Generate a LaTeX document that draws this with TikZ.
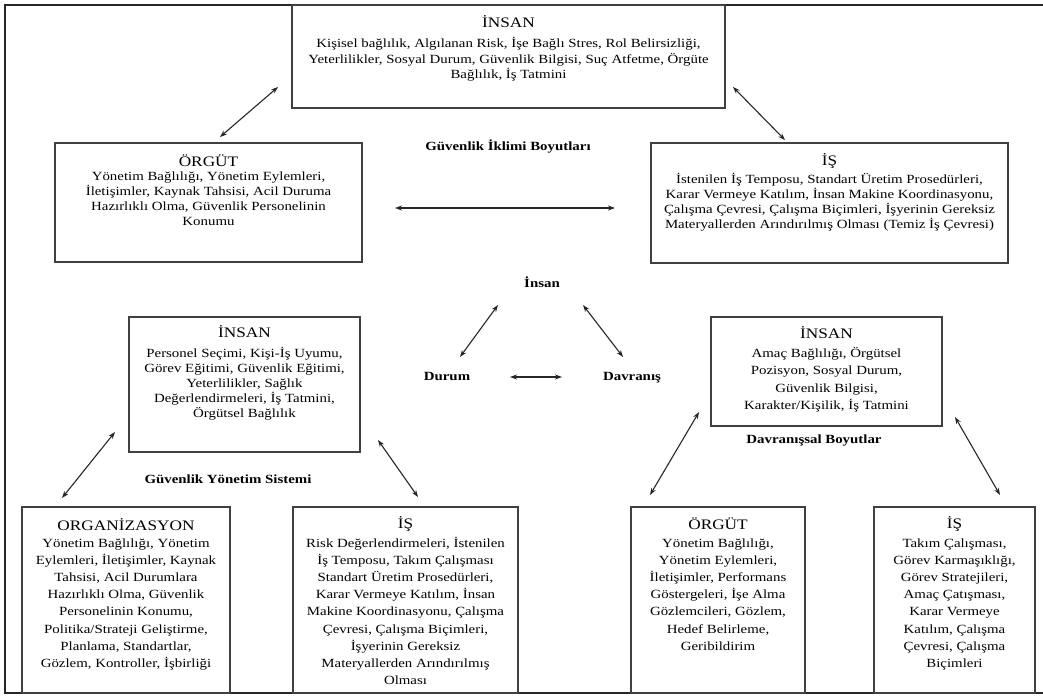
\documentclass[tikz,border=0pt]{standalone}
\usepackage{fontspec}
\setmainfont[FakeStretch=1.19]{Liberation Serif}
\usetikzlibrary{arrows.meta,calc}
\begin{document}
\begin{tikzpicture}[x=1pt,y=-1pt,
  box/.style={draw=black!75,line width=1.3pt,inner sep=0pt,outer sep=0pt,anchor=north west},
  ttl/.style={anchor=base,inner sep=0pt,font=\fontsize{14.5}{16}\selectfont},
  bodytop/.style={anchor=base,inner sep=0pt,align=center,font=\fontsize{12.5}{15.3}\selectfont},
  bodymidl/.style={anchor=base,inner sep=0pt,align=center,font=\fontsize{12.5}{15.2}\selectfont},
  bodymidr/.style={anchor=base,inner sep=0pt,align=center,font=\fontsize{12.5}{17.5}\selectfont},
  bodybot/.style={anchor=base,inner sep=0pt,align=center,font=\fontsize{12.5}{17.2}\selectfont},
  lbl/.style={anchor=base,inner sep=0pt,font=\fontsize{12.5}{14}\selectfont\bfseries},
  biarrow/.style={{Stealth[length=7pt,width=5pt]}-{Stealth[length=7pt,width=5pt]},line width=1.1pt,draw=black!85},
  frame/.style={line width=2.6pt,draw=black!85}
]
\useasboundingbox (0,0) rectangle (1043,698);
% outer frame
\coordinate (ftl) at (5,5);
\coordinate (ftr) at (1043,5);
\coordinate (fbl) at (5,693);
\coordinate (fbr) at (1043,693);
\draw[frame] (ftr) -- (ftl) -- (fbl) -- (fbr);

% ---------- Güvenlik İklimi Boyutları ----------
\node[box,minimum width=433pt,minimum height=103pt] (insanTop) at (292,5) {};
\node[ttl] (insanTopT) at (508.5,28) {İNSAN};
\node[bodytop] (insanTopB) at (508.5,78.6) {Kişisel bağlılık, Algılanan Risk, İşe Bağlı Stres, Rol Belirsizliği,\\Yeterlilikler, Sosyal Durum, Güvenlik Bilgisi, Suç Atfetme, Örgüte\\Bağlılık, İş Tatmini};

\node[box,minimum width=307pt,minimum height=119pt] (orgutTop) at (55,143) {};
\node[ttl] (orgutTopT) at (208.5,166) {ÖRGÜT};
\node[bodytop] (orgutTopB) at (208.5,225.9) {Yönetim Bağlılığı, Yönetim Eylemleri,\\İletişimler, Kaynak Tahsisi, Acil Duruma\\Hazırlıklı Olma, Güvenlik Personelinin\\Konumu};

\node[box,minimum width=357pt,minimum height=120pt] (isTop) at (651,143) {};
\node[ttl] (isTopT) at (829.5,165) {İŞ};
\node[bodytop] (isTopB) at (829.5,228.9) {İstenilen İş Temposu, Standart Üretim Prosedürleri,\\Karar Vermeye Katılım, İnsan Makine Koordinasyonu,\\Çalışma Çevresi, Çalışma Biçimleri, İşyerinin Gereksiz\\Materyallerden Arındırılmış Olması (Temiz İş Çevresi)};

\node[lbl] (gib) at (508,150) {Güvenlik İklimi Boyutları};

\coordinate (a1s) at (278,87);  \coordinate (a1e) at (220,137);
\coordinate (a2s) at (733,87);  \coordinate (a2e) at (785,140);
\coordinate (a3s) at (395,208); \coordinate (a3e) at (615,208);
\draw[biarrow] (a1s) -- (a1e);
\draw[biarrow] (a2s) -- (a2e);
\draw[biarrow] (a3s) -- (a3e);

% ---------- triangle ----------
\node[lbl] (tInsan) at (542,287) {İnsan};
\node[lbl] (tDurum) at (447,380) {Durum};
\node[lbl] (tDavranis) at (632,380) {Davranış};
\coordinate (a4s) at (498,305); \coordinate (a4e) at (460,357);
\coordinate (a5s) at (583,305); \coordinate (a5e) at (623,357);
\coordinate (a6s) at (510,377); \coordinate (a6e) at (562,377);
\draw[biarrow] (a4s) -- (a4e);
\draw[biarrow] (a5s) -- (a5e);
\draw[biarrow] (a6s) -- (a6e);

% ---------- Güvenlik Yönetim Sistemi ----------
\node[box,minimum width=231pt,minimum height=135pt] (insanL) at (129,317) {};
\node[ttl] (insanLT) at (244.5,337) {İNSAN};
\node[bodymidl] (insanLB) at (244.5,417.8) {Personel Seçimi, Kişi-İş Uyumu,\\Görev Eğitimi, Güvenlik Eğitimi,\\Yeterlilikler, Sağlık\\Değerlendirmeleri, İş Tatmini,\\Örgütsel Bağlılık};

\node[lbl] (gys) at (228,483) {Güvenlik Yönetim Sistemi};

\node[box,minimum width=208pt,minimum height=186pt] (orgL) at (22,507) {};
\node[ttl] (orgLT) at (126,530) {ORGANİZASYON};
\node[bodybot] (orgLB) at (126,667.4) {Yönetim Bağlılığı, Yönetim\\Eylemleri, İletişimler, Kaynak\\Tahsisi, Acil Durumlara\\Hazırlıklı Olma, Güvenlik\\Personelinin Konumu,\\Politika/Strateji Geliştirme,\\Planlama, Standartlar,\\Gözlem, Kontroller, İşbirliği};

\node[box,minimum width=225pt,minimum height=186pt] (isL) at (293,507) {};
\node[ttl] (isLT) at (405.5,528) {İŞ};
\node[bodybot] (isLB) at (405.5,684.6) {Risk Değerlendirmeleri, İstenilen\\İş Temposu, Takım Çalışması\\Standart Üretim Prosedürleri,\\Karar Vermeye Katılım, İnsan\\Makine Koordinasyonu, Çalışma\\Çevresi, Çalışma Biçimleri,\\İşyerinin Gereksiz\\Materyallerden Arındırılmış\\Olması};

\coordinate (a7s) at (115,432); \coordinate (a7e) at (62,498);
\coordinate (a8s) at (378,440); \coordinate (a8e) at (418,497);
\draw[biarrow] (a7s) -- (a7e);
\draw[biarrow] (a8s) -- (a8e);

% ---------- Davranışsal Boyutlar ----------
\node[box,minimum width=231pt,minimum height=109pt] (insanR) at (711,317) {};
\node[ttl] (insanRT) at (826.5,338) {İNSAN};
\node[bodymidr] (insanRB) at (826.5,409.5) {Amaç Bağlılığı, Örgütsel\\Pozisyon, Sosyal Durum,\\Güvenlik Bilgisi,\\Karakter/Kişilik, İş Tatmini};

\node[lbl] (dvb) at (814,443) {Davranışsal Boyutlar};

\node[box,minimum width=174pt,minimum height=186pt] (orgutR) at (631,507) {};
\node[ttl] (orgutRT) at (718,529) {ÖRGÜT};
\node[bodybot] (orgutRB) at (718,650.2) {Yönetim Bağlılığı,\\Yönetim Eylemleri,\\İletişimler, Performans\\Göstergeleri, İşe Alma\\Gözlemcileri, Gözlem,\\Hedef Belirleme,\\Geribildirim};

\node[box,minimum width=161pt,minimum height=186pt] (isR) at (874,507) {};
\node[ttl] (isRT) at (954.5,528) {İŞ};
\node[bodybot] (isRB) at (954.5,667.4) {Takım Çalışması,\\Görev Karmaşıklığı,\\Görev Stratejileri,\\Amaç Çatışması,\\Karar Vermeye\\Katılım, Çalışma\\Çevresi, Çalışma\\Biçimleri};

\coordinate (a9s) at (699,412);  \coordinate (a9e) at (650,495);
\coordinate (a10s) at (955,417); \coordinate (a10e) at (1000,495);
\draw[biarrow] (a9s) -- (a9e);
\draw[biarrow] (a10s) -- (a10e);
\end{tikzpicture}
\end{document}
